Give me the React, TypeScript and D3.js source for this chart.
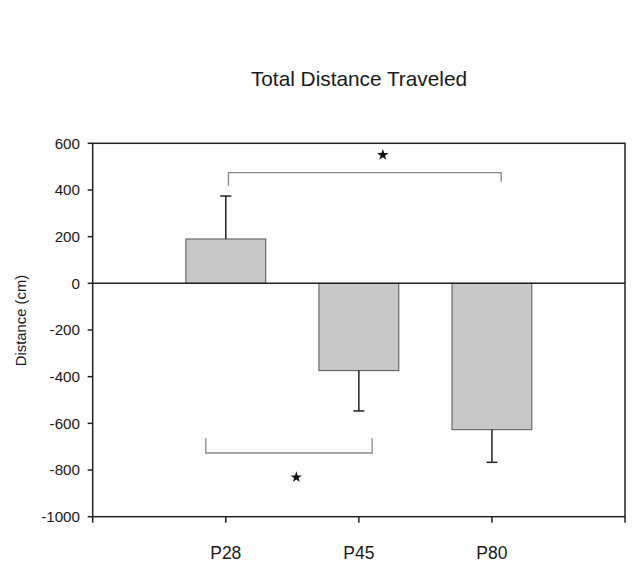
import React from "react";
import * as d3 from "d3";

const categories = ["P28", "P45", "P80"];
const means = [190, -374, -627];
const errors = [184, 173, 140];
const yTicks = [-1000, -800, -600, -400, -200, 0, 200, 400, 600];
const xTickPositions = [0, 1, 2, 3, 4];

// significance brackets (x in category units, y in data units)
const bracketX1 = [1.02, 0.85];
const bracketX2 = [3.07, 2.1];
const bracketY = [474, -727];
const bracketEndL = [418, -664];
const bracketEndR = [435, -664];
const starX = [2.18, 1.53];
const starY = [550, -831];

const W = 644;
const H = 571;
const FONT = "'Liberation Sans', Arial, sans-serif";

export default function App() {
  const x = d3.scaleLinear().domain([0, 4]).range([92.7, 625]);
  const y = d3.scaleLinear().domain([-1000, 600]).range([516.7, 143.3]);
  const barW = x(0.6) - x(0);
  const capW = 11;
  const star = d3.symbol().type(d3.symbolStar).size(40)();

  return (
    <svg
      width={W}
      height={H}
      style={{ position: "absolute", left: 0, top: 0, background: "#fdfdfd" }}
      fontFamily={FONT}
    >
      <rect x={0} y={0} width={W} height={H} fill="#fdfdfd" />
      <text x={359} y={86} textAnchor="middle" fontSize={20.8} fill="#1a1a1a">
        Total Distance Traveled
      </text>

      {/* bars */}
      {means.map((m, i) => {
        const cx = x(i + 1);
        const y0 = y(0);
        const y1 = y(m);
        return (
          <rect
            key={"b" + i}
            x={cx - barW / 2}
            y={Math.min(y0, y1)}
            width={barW}
            height={Math.abs(y1 - y0)}
            fill="#c8c8c8"
            stroke="#555"
            strokeWidth={1}
          />
        );
      })}

      {/* error bars */}
      {means.map((m, i) => {
        const cx = x(i + 1);
        const end = m >= 0 ? m + errors[i] : m - errors[i];
        return (
          <g key={"e" + i} stroke="#222" strokeWidth={1.5}>
            <line x1={cx} x2={cx} y1={y(m)} y2={y(end)} />
            <line x1={cx - capW / 2} x2={cx + capW / 2} y1={y(end)} y2={y(end)} />
          </g>
        );
      })}

      {/* zero line */}
      <line x1={x(0)} x2={x(4)} y1={y(0)} y2={y(0)} stroke="#222" strokeWidth={1.5} />

      {/* frame */}
      <rect
        x={x(0)}
        y={y(600)}
        width={x(4) - x(0)}
        height={y(-1000) - y(600)}
        fill="none"
        stroke="#222"
        strokeWidth={1.5}
      />

      {/* y ticks */}
      {yTicks.map((t) => (
        <g key={"yt" + t}>
          <line x1={x(0) - 5} x2={x(0)} y1={y(t)} y2={y(t)} stroke="#222" strokeWidth={1.5} />
          <text
            x={80}
            y={y(t)}
            dy="0.35em"
            textAnchor="end"
            fontSize={15.2}
            fill="#1a1a1a"
          >
            {t}
          </text>
        </g>
      ))}

      {/* x ticks */}
      {xTickPositions.map((p) => (
        <line
          key={"xt" + p}
          x1={x(p)}
          x2={x(p)}
          y1={y(-1000)}
          y2={y(-1000) + 6}
          stroke="#222"
          strokeWidth={1.5}
        />
      ))}
      {categories.map((c, i) => (
        <text key={"xl" + c} x={x(i + 1)} y={559} textAnchor="middle" fontSize={17.5} fill="#1a1a1a">
          {c}
        </text>
      ))}

      {/* y label */}
      <text
        transform={`translate(20.5,320.5) rotate(-90)`}
        textAnchor="middle"
        dominantBaseline="central"
        fontSize={14.8}
        fill="#1a1a1a"
      >
        Distance (cm)
      </text>

      {/* brackets */}
      {bracketY.map((by, i) => (
        <path
          key={"br" + i}
          d={`M${x(bracketX1[i])},${y(bracketEndL[i])}V${y(by)}H${x(bracketX2[i])}V${y(bracketEndR[i])}`}
          fill="none"
          stroke="#888"
          strokeWidth={1.3}
        />
      ))}
      {starX.map((sx, i) => (
        <path
          key={"s" + i}
          d={star}
          transform={`translate(${x(sx)},${y(starY[i])})`}
          fill="#111"
        />
      ))}
    </svg>
  );
}
